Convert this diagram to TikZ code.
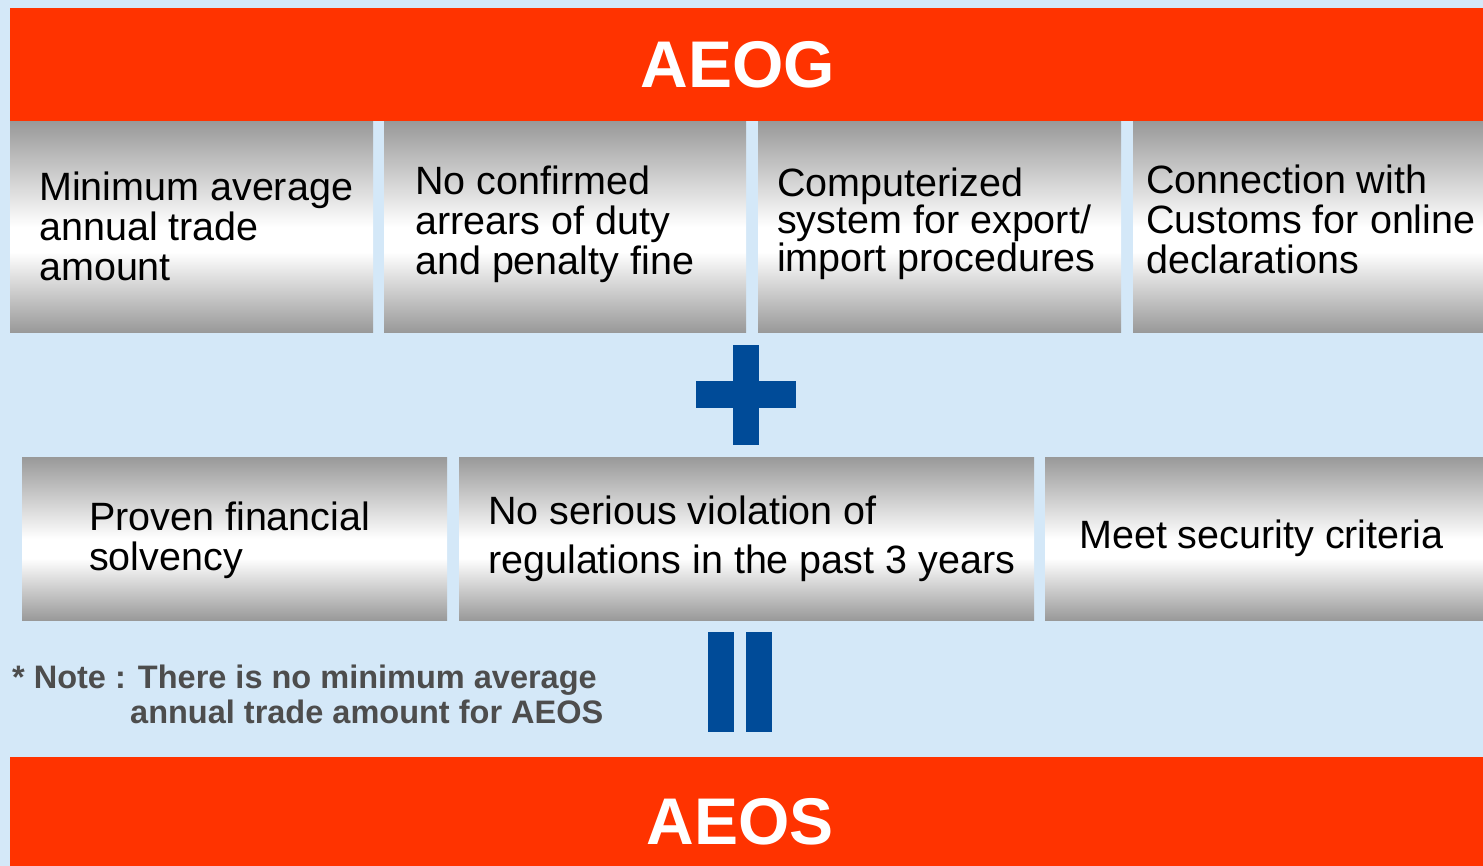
\documentclass[tikz,border=0pt]{standalone}
\usepackage{fontspec}
\setmainfont{Liberation Sans}
\usetikzlibrary{positioning,calc}

\definecolor{aeored}{HTML}{FF3300}
\definecolor{aeoblue}{HTML}{004B98}
\definecolor{aeobg}{HTML}{D4E8F8}
\definecolor{aeogray}{HTML}{999999}
\definecolor{notegray}{HTML}{4D4D4D}

\pgfdeclareverticalshading{metal}{100bp}{%
  color(0bp)=(aeogray); color(25bp)=(aeogray); color(44bp)=(white);
  color(50bp)=(white); color(75bp)=(aeogray); color(100bp)=(aeogray)}

\begin{document}
\begin{tikzpicture}[
      x=1pt, y=1pt,
      banner/.style={
        fill=aeored,
        inner sep=0pt,
        anchor=north west,
        minimum width=1473pt
      },
      titre/.style={
        text=white,
        font=\fontsize{66}{66}\selectfont\bfseries
      },
      crit/.style={
        shading=metal,
        inner sep=0pt,
        anchor=north west
      },
      crittext/.style={
        inner sep=0pt,
        align=left,
        font=\fontsize{39.5}{40}\selectfont
      },
      note/.style={
        inner sep=0pt,
        align=left,
        text=notegray,
        font=\bfseries\fontsize{32.5}{35}\selectfont
      }
    ]
    \useasboundingbox (0,0) rectangle (1483,-866);
    \fill[aeobg] (0,0) rectangle (1483,-866);

    % banners
    \node[banner, minimum height=113pt] (aeog) at (10,-8) {};
    \node[banner, minimum height=109pt] (aeos) at (10,-757) {};
    \node[titre] (aeogtxt) at (738,-65) {AEOG};
    \node[titre] (aeostxt) at (740,-822) {AEOS};

    % first row
    \node[crit, minimum width=363pt, minimum height=211pt] (c1) at (10,-121) {};
    \node[crit, minimum width=362pt, minimum height=211pt] (c2) at (384,-121) {};
    \node[crit, minimum width=363pt, minimum height=211pt] (c3) at (758,-121) {};
    \node[crit, minimum width=350pt, minimum height=211pt] (c4) at (1133,-121) {};

    \node[crittext, right=29pt of c1.west] (t1) {Minimum average\\annual trade\\amount};
    \node[crittext, right=31pt of c2.west, yshift=2pt] (t2) {No confirmed\\arrears of duty\\and penalty fine};
    \node[crittext, right=19pt of c3.west, yshift=3pt,
          font=\fontsize{39.5}{35}\selectfont] (t3) {Computerized\\system for export/\\import procedures};
    \node[crittext, right=13pt of c4.west, yshift=7pt] (t4) {Connection with\\Customs for online\\declarations};

    % plus
    \fill[aeoblue] (733,-345) rectangle (759,-445);
    \fill[aeoblue] (696,-381) rectangle (796,-408);

    % second row
    \node[crit, minimum width=425pt, minimum height=163pt] (c5) at (22,-457) {};
    \node[crit, minimum width=575pt, minimum height=163pt] (c6) at (459,-457) {};
    \node[crit, minimum width=438pt, minimum height=163pt] (c7) at (1045,-457) {};

    \node[crittext, right=67pt of c5.west, yshift=-2pt] (t5) {Proven financial\\solvency};
    \node[crittext, right=29pt of c6.west, font=\fontsize{39.5}{49}\selectfont] (t6) {No serious violation of\\regulations in the past 3 years};
    \node[crittext, right=34pt of c7.west] (t7) {Meet security criteria};

    % equals
    \fill[aeoblue] (708,-632) rectangle (734,-732);
    \fill[aeoblue] (746,-632) rectangle (772,-732);

    \node[note, anchor=north west] (nb) at (12,-665) {* Note : There is no minimum average\\\hspace*{118pt}annual trade amount for AEOS};
\end{tikzpicture}
\end{document}
